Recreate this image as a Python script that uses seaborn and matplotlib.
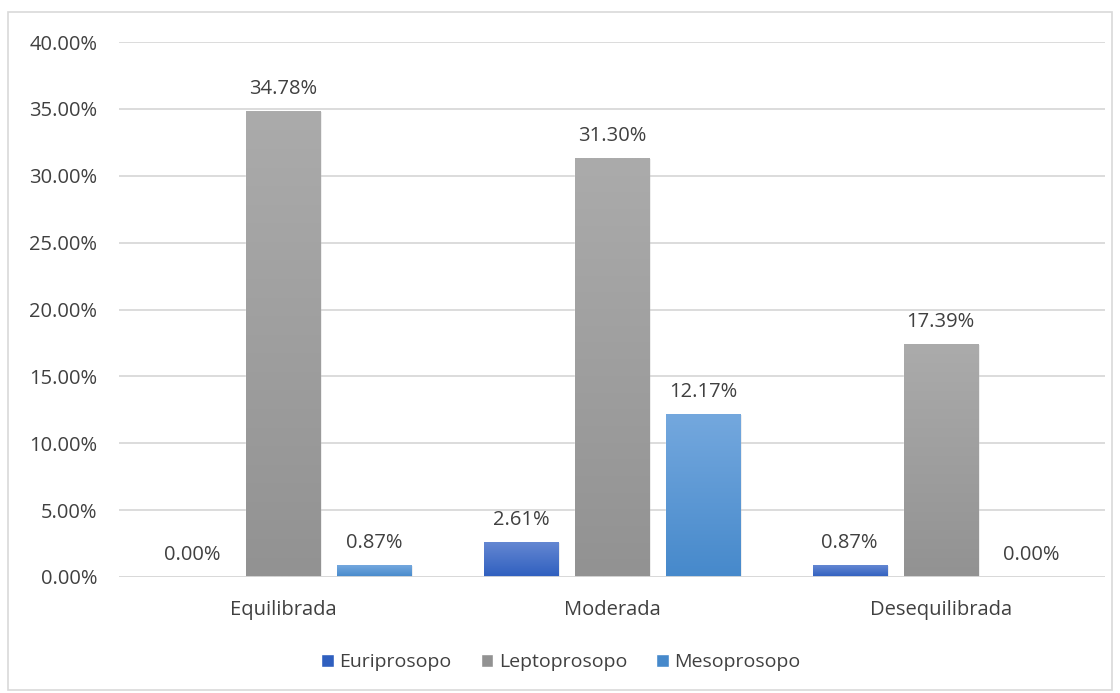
import numpy as np
import pandas as pd
import matplotlib
matplotlib.use("Agg")
import matplotlib.pyplot as plt
from matplotlib.colors import LinearSegmentedColormap
from matplotlib.patches import Rectangle, Patch
import seaborn as sns

categories = ["Equilibrada", "Moderada", "Desequilibrada"]
series = ["Euriprosopo", "Leptoprosopo", "Mesoprosopo"]
euriprosopo = [0.0000, 0.0261, 0.0087]
leptoprosopo = [0.3478, 0.3130, 0.1739]
mesoprosopo = [0.0087, 0.1217, 0.0000]

# gradient end colours (top, bottom) per series
grad = {
    "Euriprosopo": ("#6487d2", "#2f5fbf"),
    "Leptoprosopo": ("#ababab", "#929292"),
    "Mesoprosopo": ("#74a8de", "#4689cb"),
}
TEXT = "#404040"
FS = 14.5

df = pd.DataFrame({
    "cat": np.repeat(categories, 3),
    "serie": series * 3,
    "val": [v for trio in zip(euriprosopo, leptoprosopo, mesoprosopo) for v in trio],
})

sns.set_theme(style="white")
plt.rcParams["font.family"] = ["Open Sans", "DejaVu Sans"]

fig = plt.figure(figsize=(11.2, 6.93), dpi=100)
ax = fig.add_axes([119 / 1120, 1 - 577 / 693, 986 / 1120, (577 - 42) / 693])

palette = {s: grad[s][1] for s in series}
sns.barplot(data=df, x="cat", y="val", hue="serie", order=categories,
            hue_order=series, palette=palette, width=0.83, gap=0.186,
            ax=ax, legend=False, saturation=1, zorder=3)

yt = np.arange(0, 0.401, 0.05)
ax.set_ylim(0, 0.40)
ax.set_yticks(yt)
ax.set_yticklabels([f"{t * 100:.2f}%" for t in yt])
ax.set_xlabel("")
ax.set_ylabel("")
for s in ax.spines.values():
    s.set_visible(False)
ax.tick_params(axis="both", length=0, labelsize=FS, colors=TEXT)
ax.tick_params(axis="y", pad=15.5)
ax.tick_params(axis="x", pad=16.5)
ax.grid(axis="y", color="#d9d9d9", linewidth=1.3, zorder=0)
ax.set_axisbelow(True)

# vertical gradients inside each bar, plus value labels
for container, name in zip(ax.containers, series):
    cmap = LinearSegmentedColormap.from_list(name, [grad[name][1], grad[name][0]])
    for bar, v in zip(container, df[df.serie == name].val):
        x0 = bar.get_x()
        w = bar.get_width()
        h = bar.get_height()
        if h > 0:
            # soft shadow
            ax.add_patch(Rectangle((x0 + 0.006, 0), w, h - 0.0005, color="#000000",
                                   alpha=0.08, zorder=2, linewidth=0))
            g = np.linspace(0, 1, 256).reshape(-1, 1)
            ax.imshow(g, cmap=cmap, aspect="auto", origin="lower",
                      extent=(x0, x0 + w, 0, h), zorder=3.5, interpolation="bilinear")
        ax.annotate(f"{v * 100:.2f}%", (x0 + w / 2, h), xytext=(0, 9),
                    textcoords="offset points", ha="center", va="bottom",
                    fontsize=FS, color=TEXT, zorder=5)
ax.set_xlim(-0.5, 2.5)
ax.set_ylim(0, 0.40)
ax.axhline(0, color="#d9d9d9", linewidth=1.3, zorder=4)

# legend at the bottom
handles = [Patch(facecolor=grad[s][1]) for s in series]
fig.legend(handles, series, loc="center", bbox_to_anchor=(561 / 1120, 1 - 662 / 693),
           ncol=3, frameon=False, fontsize=14, handlelength=0.65, handleheight=0.65,
           handletextpad=0.28, columnspacing=1.5, labelcolor=TEXT)

# chart area border
fig.patches.append(Rectangle((8 / 1120, 1 - 690 / 693), 1104 / 1120, 678 / 693,
                             transform=fig.transFigure, fill=False,
                             edgecolor="#d9d9d9", linewidth=1.2))

fig.savefig("out.png", dpi=100)
